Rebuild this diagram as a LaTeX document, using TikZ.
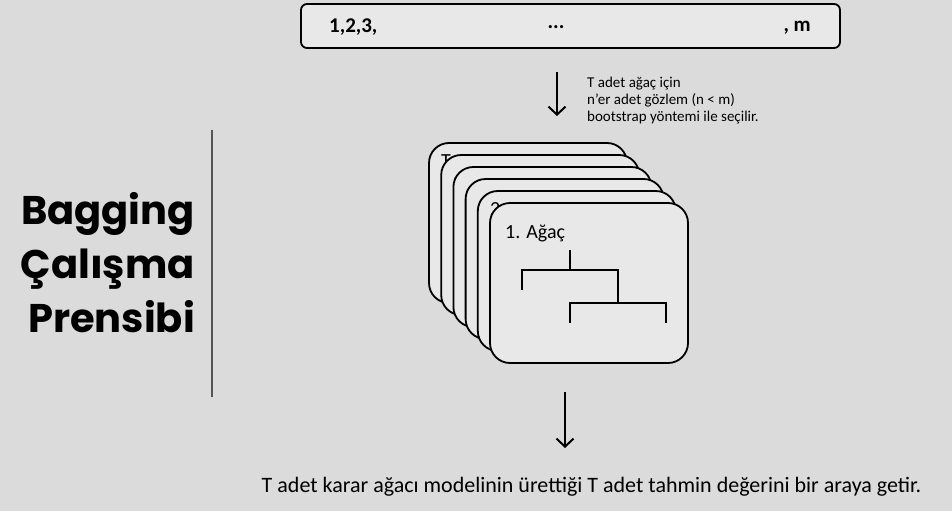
\documentclass[tikz,border=0pt]{standalone}
\usepackage{fontspec}
\setmainfont{Carlito}
\newfontfamily\titlefont{Poppins}
\usetikzlibrary{arrows.meta}
\definecolor{bggray}{HTML}{DBDBDB}
\definecolor{cardfill}{HTML}{E8E8E8}
\definecolor{rulegray}{HTML}{555555}
\begin{document}
\begin{tikzpicture}[x=1pt,y=-1pt,
  card/.style={draw=black,line width=1.8pt,fill=cardfill,rounded corners=20pt,
    minimum width=198pt,minimum height=160pt,inner sep=0pt},
  cardlabel/.style={anchor=base west,inner sep=0pt,font=\fontsize{20}{24}\selectfont},
  databox/.style={draw=black,line width=1.8pt,fill=cardfill,rounded corners=6pt,
    minimum width=539pt,minimum height=44pt,inner sep=0pt},
  boxtext/.style={inner sep=0pt,font=\bfseries\fontsize{21}{24}\selectfont},
  flow/.style={line width=2pt,-{Straight Barb[length=8pt,width=17pt,line width=2pt]}},
  branch/.style={line width=2.4pt},
  title/.style={anchor=base east,inner sep=0pt,font=\titlefont\bfseries\fontsize{40}{46}\selectfont},
]
\useasboundingbox (0,0) rectangle (952,511);
\fill[bggray] (0,0) rectangle (952,511);

% sample index strip
\node[databox] (data) at (570.5,26) {};
\node[boxtext,anchor=west] (first) at (329,27.5) {1,2,3,};
\node[boxtext] (dots) at (556,27.5) {...};
\node[boxtext,anchor=east] (last) at (811,27.5) {, m};

% bootstrap sampling step
\coordinate (s1) at (557,72);
\coordinate (s2) at (557,116);
\draw[flow] (s1) -- (s2);
\node[anchor=west,align=left,inner sep=0pt,font=\fontsize{15}{17}\selectfont] (note) at (587,101)
  {T adet ağaç için\\n’er adet gözlem (n < m)\\bootstrap yöntemi ile seçilir.};

% stack of trees, back to front; only the corner of each back label shows
\foreach \k/\lab in {0/T,1/.,2/.,3/.,4/2}{
  \node[card] (card\k) at ({429+12.2*\k+99},{143+12*\k+80}) {};
  \node[cardlabel] (lab\k) at ({429+12.2*\k+12},{143+12*\k+24}) {\lab};
}
\node[card] (card5) at (589,283) {};
\node[cardlabel] (lab5) at (505,238) {1. Ağaç};

% tree sketch on the front card
\coordinate (t0) at (570,250);
\coordinate (t1) at (570,270);
\coordinate (tl) at (522,270);
\coordinate (tr) at (618,270);
\coordinate (tld) at (522,290);
\coordinate (trd) at (618,303);
\coordinate (u1) at (570,303);
\coordinate (u2) at (666,303);
\coordinate (u1d) at (570,323);
\coordinate (u2d) at (666,323);
\draw[branch] (t0) -- (t1);
\draw[branch] (tld) -- (tl) -- (tr) -- (trd);
\draw[branch] (u1d) -- (u1) -- (u2) -- (u2d);

% title and divider
\node[title] (h1) at (195,224) {Bagging};
\node[title] (h2) at (195,278) {Çalışma};
\node[title] (h3) at (195,332) {Prensibi};
\coordinate (r1) at (212,130);
\coordinate (r2) at (212,397);
\draw[rulegray,line width=1.3pt] (r1) -- (r2);

% aggregation step
\coordinate (a1) at (565,392);
\coordinate (a2) at (565,448);
\draw[flow,line width=2.4pt] (a1) -- (a2);
\node[anchor=base,inner sep=0pt,font=\fontsize{22}{26}\selectfont] (result) at (591.5,492)
  {T adet karar ağacı modelinin ürettiği T adet tahmin değerini bir araya getir.};
\end{tikzpicture}
\end{document}
